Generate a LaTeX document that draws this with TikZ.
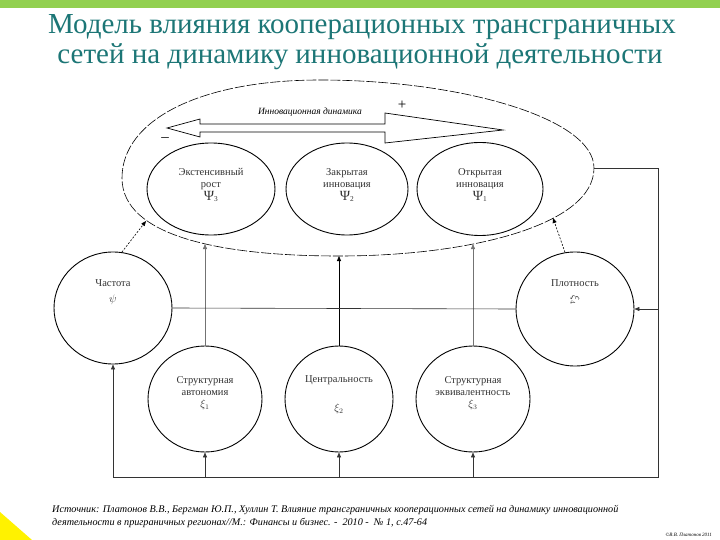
\documentclass[tikz,border=0pt]{standalone}
\usepackage{fontspec}
\setmainfont{Liberation Serif}
\usetikzlibrary{shapes.geometric,arrows.meta}
\definecolor{titlecol}{RGB}{28,118,118}
\definecolor{barcol}{RGB}{146,208,80}
\begin{document}
\begin{tikzpicture}[x=1pt,y=-1pt,
  inner/.style={ellipse,draw,line width=0.9pt,inner sep=0pt},
  lbl/.style={font=\fontsize{10.5}{12}\selectfont,text=black!80,align=center,inner sep=0pt},
  conn/.style={line width=0.6pt,draw=black!80},
  tip/.style={-{Triangle[length=5pt,width=4pt]}},
  dotarrow/.style={line width=0.6pt,dash pattern=on 2pt off 1.5pt,-{Triangle[length=5pt,width=4pt]}},
  titlefont/.style={font=\fontsize{29}{32}\selectfont,text=titlecol,inner sep=0pt}
]
\useasboundingbox (0,0) rectangle (720,540);
\fill[white] (0,0) rectangle (720,540);
\fill[barcol] (0,0) rectangle (720,8);
\fill[yellow] (0,512) -- (32,540) -- (0,540) -- cycle;

\node[titlefont] (t1) at (362,27) {Модель влияния кооперационных трансграничных};
\node[titlefont] (t2) at (360,57) {сетей на динамику инновационной деятельности};

% big dashed envelope
\draw[line width=0.6pt,dash pattern=on 10pt off 2pt]
  (122,178) .. controls (122,120) and (200,80) .. (320,80)
  .. controls (460,80) and (594,118) .. (594,168)
  .. controls (594,225) and (470,256) .. (339,256)
  .. controls (220,256) and (122,236) .. (122,178) -- cycle;
\coordinate (eL) at (205,244);
\coordinate (eM) at (339,256);
\coordinate (eR) at (473,244);
\coordinate (eE) at (594,168);
\coordinate (eChast) at (146,221);
\coordinate (ePlot) at (553,218);

% double arrow
\draw[line width=0.7pt,fill=white] (167,128) -- (200,119) -- (200,124) -- (385,124) -- (385,113)
  -- (503,130) -- (385,143) -- (385,132) -- (200,132) -- (200,137) -- cycle;
\node[font=\fontsize{9.5}{11}\selectfont\itshape,inner sep=0pt] (dyn) at (310,112) {Инновационная динамика};
\node[font=\fontsize{15}{15}\selectfont,inner sep=0pt] (plus) at (402,105) {+};
\node[font=\fontsize{15}{15}\selectfont,inner sep=0pt] (minus) at (165,140) {–};

% top ellipses
\node[inner,minimum width=128pt,minimum height=92pt] (ext) at (211,189) {};
\node[inner,minimum width=122pt,minimum height=92pt] (cls) at (347,189) {};
\node[inner,minimum width=126pt,minimum height=93pt] (opn) at (480,189) {};
\node[lbl] (extT) at (211,185) {Экстенсивный\\рост\\[1pt]{\fontsize{14}{14}\selectfont Ψ}\textsubscript{3}};
\node[lbl] (clsT) at (347,185) {Закрытая\\инновация\\[1pt]{\fontsize{14}{14}\selectfont Ψ}\textsubscript{2}};
\node[lbl] (opnT) at (480,185) {Открытая\\инновация\\[1pt]{\fontsize{14}{14}\selectfont Ψ}\textsubscript{1}};

% side circles
\node[inner,minimum width=118pt,minimum height=112pt] (chast) at (113,308) {};
\node[lbl] (chastT) at (113,292) {Частота\\[4pt]$\psi$};
\node[inner,minimum width=118pt,minimum height=114pt] (plot) at (575,309) {};
\node[lbl] (plotT) at (575,283) {Плотность};
\node[lbl,rotate=-90] (plotX) at (575,300) {$\xi_4$};

% bottom circles
\node[inner,minimum width=114pt,minimum height=106pt] (sa) at (205,399) {};
\node[inner,minimum width=108pt,minimum height=106pt] (cen) at (339,399) {};
\node[inner,minimum width=114pt,minimum height=106pt] (se) at (473,399) {};
\node[lbl] (saT) at (205,393) {Структурная\\автономия\\$\xi_1$};
\node[lbl] (cenT) at (339,380) {Центральность};
\node[lbl] (cenX) at (339,409) {$\xi_2$};
\node[lbl] (seT) at (473,393) {Структурная\\эквивалентность\\$\xi_3$};

% connectors
\draw[tip,line width=0.5pt,draw=black!55] (sa.north) -- (eL);
\draw[tip,line width=0.8pt,draw=black] (cen.north) -- (eM);
\draw[tip,line width=0.5pt,draw=black!55] (se.north) -- (eR);
\draw[conn] (chast.east) -- (plot.west);

\coordinate (c1) at (658,168);
\coordinate (c2) at (658,477);
\coordinate (c3) at (113,477);
\coordinate (cp) at (658,309);
\coordinate (b1) at (205,477);
\coordinate (b2) at (339,477);
\coordinate (b3) at (473,477);
\draw[conn,tip] (eE) -- (c1) -- (c2) -- (c3) -- (chast.south);
\draw[conn,tip] (cp) -- (plot.east);
\draw[conn,tip] (b1) -- (sa.south);
\draw[conn,tip] (b2) -- (cen.south);
\draw[conn,tip] (b3) -- (se.south);

\draw[dotarrow] (chast.81) -- (eChast);
\draw[dotarrow] (plot.100) -- (ePlot);

% source
\node[anchor=west,font=\fontsize{10.2}{12}\selectfont\itshape,inner sep=0pt] (src1) at (52,510)
 {Источник: Платонов В.В., Бергман Ю.П., Хуллин Т. Влияние трансграничных кооперационных сетей на динамику инновационной};
\node[anchor=west,font=\fontsize{10.2}{12}\selectfont\itshape,inner sep=0pt] (src2) at (52,523)
 {деятельности в приграничных регионах//М.: Финансы и бизнес. - \ 2010 - \ № 1, с.47-64};
\node[anchor=east,font=\fontsize{5}{6}\selectfont\itshape,inner sep=0pt] (copy) at (712,535) {©В.В. Платонов 2011};
\end{tikzpicture}
\end{document}
